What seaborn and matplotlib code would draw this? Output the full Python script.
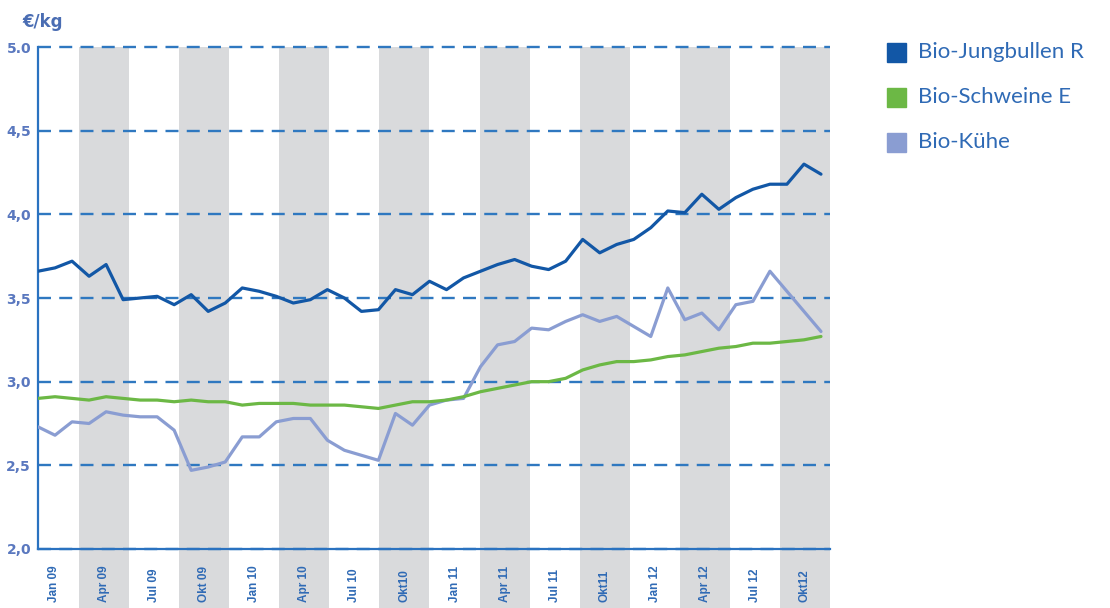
import matplotlib.pyplot as plt
from matplotlib.patches import Rectangle
import seaborn as sns
import pandas as pd
import numpy as np

# monthly prices (EUR/kg), 47 points
jungbullen = [3.66, 3.68, 3.72, 3.63, 3.70, 3.49, 3.50, 3.51, 3.46, 3.52,
              3.42, 3.47, 3.56, 3.54, 3.51, 3.47, 3.49, 3.55, 3.50, 3.42,
              3.43, 3.55, 3.52, 3.60, 3.55, 3.62, 3.66, 3.70, 3.73, 3.69,
              3.67, 3.72, 3.85, 3.77, 3.82, 3.85, 3.92, 4.02, 4.01, 4.12,
              4.03, 4.10, 4.15, 4.18, 4.18, 4.30, 4.24]
schweine = [2.90, 2.91, 2.90, 2.89, 2.91, 2.90, 2.89, 2.89, 2.88, 2.89,
            2.88, 2.88, 2.86, 2.87, 2.87, 2.87, 2.86, 2.86, 2.86, 2.85,
            2.84, 2.86, 2.88, 2.88, 2.89, 2.91, 2.94, 2.96, 2.98, 3.00,
            3.00, 3.02, 3.07, 3.10, 3.12, 3.12, 3.13, 3.15, 3.16, 3.18,
            3.20, 3.21, 3.23, 3.23, 3.24, 3.25, 3.27]
kuehe = [2.73, 2.68, 2.76, 2.75, 2.82, 2.80, 2.79, 2.79, 2.71, 2.47,
         2.49, 2.52, 2.67, 2.67, 2.76, 2.78, 2.78, 2.65, 2.59, 2.56,
         2.53, 2.81, 2.74, 2.86, 2.89, 2.90, 3.09, 3.22, 3.24, 3.32,
         3.31, 3.36, 3.40, 3.36, 3.39, 3.33, 3.27, 3.56, 3.37, 3.41,
         3.31, 3.46, 3.48, 3.66, 3.54, 3.42, 3.30]

quarter_labels = ["Jan 09", "Apr 09", "Jul 09", "Okt 09",
                  "Jan 10", "Apr 10", "Jul 10", "Okt10",
                  "Jan 11", "Apr 11", "Jul 11", "Okt11",
                  "Jan 12", "Apr 12", "Jul 12", "Okt12"]
y_values = [2.0, 2.5, 3.0, 3.5, 4.0, 4.5, 5.0]
y_labels = ["2,0", "2,5", "3,0", "3,5", "4,0", "4,5", "5.0"]

names = ["Bio-Jungbullen R", "Bio-Schweine E", "Bio-Kühe"]
colors = ["#1257a6", "#6cb845", "#8a9dd2"]

sns.set_style("white")

fig = plt.figure(figsize=(11.1, 6.08), dpi=100)
ax = fig.add_axes([38 / 1110, 1 - 549 / 608, 792 / 1110, 502 / 608])

# quarter bands (month units)
n_q = len(quarter_labels)
ax.set_xlim(0.54, 3 * n_q)
for q in range(n_q):
    if q % 2 == 1:
        ax.axvspan(3 * q, 3 * q + 3, ymin=-0.118, ymax=1, color="#d9dadc",
                   lw=0, clip_on=False, zorder=0)

ax.set_ylim(2.0, 5.0)
ax.set_yticks(y_values)
ax.set_yticklabels(y_labels)
ax.yaxis.grid(True, color="#2f78c0", linewidth=1.7, linestyle=(0, (5.5, 3.5)))
for gl in ax.get_ygridlines():
    gl.set_clip_on(False)

ax.set_xticks([3 * q + 1.5 for q in range(n_q)])
ax.set_xticklabels(quarter_labels)
ax.tick_params(axis="x", length=0, pad=38, labelsize=8.5, labelcolor="#2f6ab5")
ax.tick_params(axis="y", length=0, pad=5, labelsize=10, labelcolor="#5a78bf")
for lbl in ax.get_xticklabels():
    lbl.set_rotation(90)
    lbl.set_va("bottom")
    lbl.set_fontweight("bold")
    lbl.set_family(["Liberation Sans Narrow", "Liberation Sans"])
for lbl in ax.get_yticklabels():
    lbl.set_fontweight("bold")

for side in ["top", "right"]:
    ax.spines[side].set_visible(False)
for side in ["left", "bottom"]:
    ax.spines[side].set_color("#2a72c0")
    ax.spines[side].set_linewidth(1.6)
    ax.spines[side].set_zorder(3)

# lines on their own x scale
df = pd.DataFrame({"idx": np.arange(len(jungbullen)),
                   names[0]: jungbullen, names[1]: schweine, names[2]: kuehe})
long = df.melt(id_vars="idx", var_name="serie", value_name="preis")

ax2 = ax.twiny()
sns.lineplot(data=long, x="idx", y="preis", hue="serie",
             hue_order=[names[2], names[1], names[0]],
             palette=dict(zip(names, colors)), linewidth=2.3,
             legend=False, ax=ax2, solid_joinstyle="round")
ax2.set_xlim(0, 46.53)
ax2.set_ylim(2.0, 5.0)
ax2.set_axis_off()

fig.text(22 / 1110, 1 - 22 / 608, "€/kg", fontsize=12, fontweight="bold",
         color="#4a6db3", va="center")

# legend
for k, (name, color) in enumerate(zip(names, colors)):
    yc = 52 + 45.2 * k
    fig.patches.append(Rectangle((887 / 1110, 1 - (yc + 9.5) / 608), 19 / 1110, 19 / 608,
                                 transform=fig.transFigure, color=color))
    fig.text(918 / 1110, 1 - yc / 608, name, fontsize=16, color="#2f6ab5",
             va="center", family=["Lato", "DejaVu Sans"])

fig.savefig("out.png", dpi=100)
